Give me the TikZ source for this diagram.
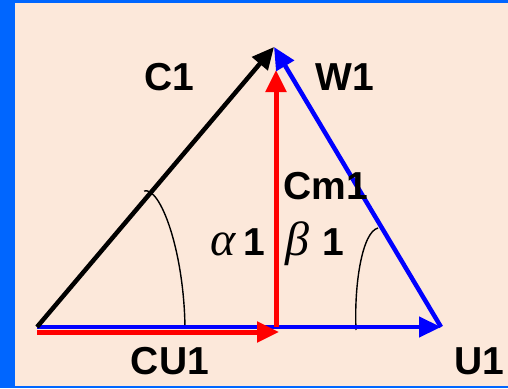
\documentclass[tikz,border=0pt]{standalone}
\usepackage{fontspec}
\setmainfont{Liberation Sans}
\newfontfamily\greekfont{Liberation Serif}
\usetikzlibrary{arrows.meta}
\definecolor{bgpeach}{HTML}{FCE8DA}
\definecolor{frameblue}{HTML}{0066FF}
\definecolor{vecblue}{HTML}{0000FF}
\definecolor{vecred}{HTML}{FF0000}
\begin{document}
\begin{tikzpicture}[x=1pt,y=-1pt,
  tip/.style={-{Triangle[length=22pt,width=20pt]}},
  vecblack/.style={tip,line width=4.5pt,black},
  vecbl/.style={tip,line width=4.5pt,vecblue},
  vecrd/.style={tip,line width=5pt,vecred},
  anglearc/.style={line width=1.4pt,black},
  lbl/.style={font=\fontsize{39}{39}\selectfont\bfseries,inner sep=0pt,anchor=base},
  onelbl/.style={font=\fontsize{39}{39}\selectfont\bfseries,inner sep=0pt,anchor=base west},
  greek/.style={font=\fontsize{48}{48}\selectfont\greekfont\itshape,inner sep=0pt,anchor=base west}]
\useasboundingbox (0,0) rectangle (508,388);
\fill[frameblue] (0,0) rectangle (508,388);
\fill[bgpeach] (15,3) rectangle (508,386);
% vertices
\coordinate (O) at (37,327);
\coordinate (A) at (274,47);
\coordinate (U) at (441,327);
\coordinate (M) at (276,327);
\coordinate (Mt) at (276,70);
\coordinate (R0) at (37,332);
\coordinate (R1) at (279,332);
% angle arcs
\coordinate (a0) at (144,191);
\coordinate (a1) at (185,328);
\coordinate (b0) at (378,228);
\coordinate (b1) at (356,330);
\draw[anglearc] (a0) .. controls (160,186) and (184,250) .. (a1);
\draw[anglearc] (b0) .. controls (362,232) and (354,285) .. (b1);
% vectors
\draw[vecbl] (O) -- (U);
\draw[vecrd] (R0) -- (R1);
\draw[vecrd] (M) -- (Mt);
\draw[vecblack] (O) -- (A);
\draw[vecbl] (U) -- (A);
% labels
\node[lbl] (c1) at (169,90) {C1};
\node[lbl] (w1) at (345,90) {W1};
\node[lbl] (cm1) at (326,199) {Cm1};
\node[lbl] (cu1) at (170,374) {CU1};
\node[lbl] (u1) at (479,374) {U1};
\node[greek] (al) at (210,255) {α};
\node[onelbl] (al1) at (243,255) {1};
\node[greek] (be) at (285,255) {β};
\node[onelbl] (be1) at (322,255) {1};
\end{tikzpicture}
\end{document}
